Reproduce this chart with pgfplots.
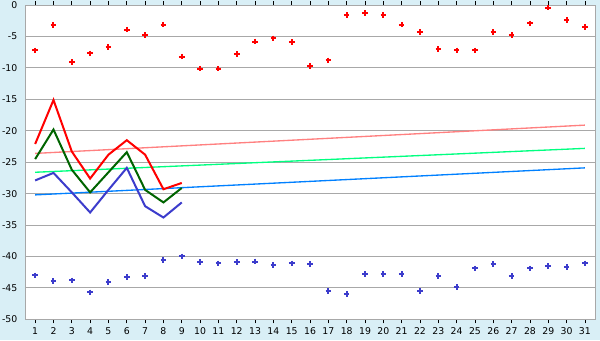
\documentclass[border=0pt]{standalone}
\usepackage{fontspec}
\setmainfont{DejaVu Sans}
\usepackage{pgfplots}
\pgfplotsset{compat=1.18}
\definecolor{bgc}{RGB}{217,239,246}
\definecolor{gridc}{RGB}{168,168,168}
\definecolor{ptred}{RGB}{255,0,0}
\definecolor{ptblue}{RGB}{60,60,204}
\definecolor{dgreen}{RGB}{0,100,0}
\definecolor{trpink}{RGB}{255,128,128}
\definecolor{trgreen}{RGB}{0,255,128}
\definecolor{trblue}{RGB}{0,128,255}
\begin{document}
\begin{tikzpicture}
\useasboundingbox (0,0) rectangle (450pt,255pt);
\fill[bgc] (0,0) rectangle (450pt,255pt);
\begin{axis}[
  at={(19.5pt,15.5pt)}, anchor=south west,
  scale only axis, width=426.75pt, height=235.7pt,
  xmin=0.5, xmax=31.55, ymin=-50, ymax=0,
  xtick={1,...,31}, ytick={-50,-45,...,0},
  ymajorgrids, grid style={gridc, line width=0.75pt},
  axis line style={gridc, line width=0.75pt},
  axis background/.style={fill=white},
  tick align=outside, major tick length=3pt,
  xtick style={black, line width=0.6pt},
  ytick style={draw=none},
  tick label style={font=\fontsize{7}{8}\selectfont},
  /pgf/number format/assume math mode=true,
  clip=false,
]
% trend lines
\addplot[trpink, line width=1pt] coordinates {(1,-23.6) (31,-19.1)};
\addplot[trgreen, line width=1pt] coordinates {(1,-26.6) (31,-22.8)};
\addplot[trblue, line width=1pt] coordinates {(1,-30.2) (31,-25.9)};
% lines
\addplot[ptred, line width=1.5pt] coordinates {(1,-22.1) (2,-15.1) (3,-23.3) (4,-27.6) (5,-23.8) (6,-21.5) (7,-23.8) (8,-29.3) (9,-28.3)};
\addplot[dgreen, line width=1.5pt] coordinates {(1,-24.5) (2,-19.8) (3,-26.2) (4,-29.8) (5,-26.6) (6,-23.4) (7,-29.4) (8,-31.4) (9,-29.1)};
\addplot[ptblue, line width=1.5pt] coordinates {(1,-27.9) (2,-26.7) (3,-29.8) (4,-33.0) (5,-29.4) (6,-25.9) (7,-32.0) (8,-33.8) (9,-31.4)};
% points
\addplot[only marks, mark=+, mark size=2.1pt, line width=1.5pt, color=ptred] coordinates {
(1,-7.2) (2,-3.2) (3,-9.1) (4,-7.7) (5,-6.7) (6,-3.9) (7,-4.8) (8,-3.1) (9,-8.2) (10,-10.1)
(11,-10.1) (12,-7.8) (13,-5.8) (14,-5.3) (15,-5.9) (16,-9.7) (17,-8.8) (18,-1.6) (19,-1.3) (20,-1.6)
(21,-3.1) (22,-4.3) (23,-7.0) (24,-7.2) (25,-7.2) (26,-4.3) (27,-4.8) (28,-2.9) (29,-0.4) (30,-2.4) (31,-3.5)};
\addplot[only marks, mark=+, mark size=2.1pt, line width=1.5pt, color=ptblue] coordinates {
(1,-43.0) (2,-43.9) (3,-43.8) (4,-45.7) (5,-44.1) (6,-43.3) (7,-43.1) (8,-40.6) (9,-40.0) (10,-40.9)
(11,-41.1) (12,-40.9) (13,-40.8) (14,-41.4) (15,-41.1) (16,-41.2) (17,-45.5) (18,-46.0) (19,-42.8) (20,-42.8)
(21,-42.8) (22,-45.5) (23,-43.1) (24,-44.9) (25,-41.9) (26,-41.2) (27,-43.1) (28,-41.9) (29,-41.5) (30,-41.7) (31,-41.1)};
\end{axis}
\end{tikzpicture}
\end{document}
